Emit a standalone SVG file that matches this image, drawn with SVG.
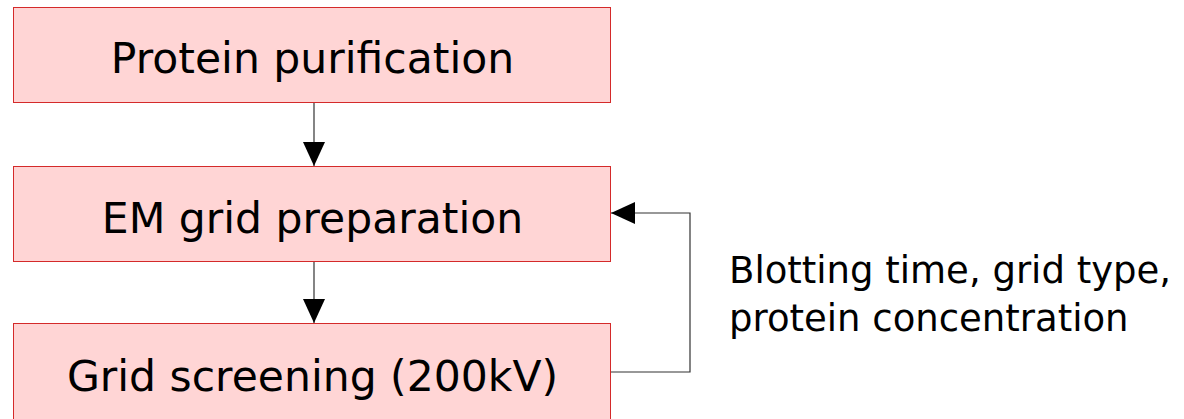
<svg xmlns="http://www.w3.org/2000/svg" width="1184" height="419" viewBox="0 0 1184 419">
  <style>
    .box { fill: #ffd5d5; stroke: #d42a2a; stroke-width: 1; }
    .label { font-family: "DejaVu Sans", sans-serif; font-size: 42.5px; fill: #000; text-anchor: middle; }
    .note { font-family: "DejaVu Sans", sans-serif; font-size: 37px; fill: #000; }
    .wire { fill: none; stroke: #333; stroke-width: 1.2; }
  </style>
  <defs>
    <marker id="head" viewBox="0 0 24 22" refX="24" refY="11" markerWidth="24" markerHeight="22" markerUnits="userSpaceOnUse" orient="auto">
      <path d="M0,0 L24,11 L0,22 Z" fill="#000"/>
    </marker>
  </defs>

  <rect width="1184" height="419" fill="#fff"/>

  <g id="connectors">
    <line class="wire" x1="314" y1="102" x2="314" y2="166" marker-end="url(#head)"/>
    <line class="wire" x1="314" y1="261" x2="314" y2="323" marker-end="url(#head)"/>
    <polyline class="wire" points="611,372 690,372 690,213 611,213" marker-end="url(#head)"/>
  </g>

  <g id="purification">
    <rect class="box" x="13.5" y="7.5" width="597" height="95"/>
    <text class="label" x="312.5" y="73">Protein purification</text>
  </g>

  <g id="grid-preparation">
    <rect class="box" x="13.5" y="166.5" width="597" height="95"/>
    <text class="label" x="312.5" y="233">EM grid preparation</text>
  </g>

  <g id="grid-screening">
    <rect class="box" x="13.5" y="323.5" width="597" height="100"/>
    <text class="label" x="312.5" y="391">Grid screening (200kV)</text>
  </g>

  <g id="feedback-note">
    <text class="note" x="729" y="283">Blotting time, grid type,</text>
    <text class="note" x="729" y="331">protein concentration</text>
  </g>
</svg>
